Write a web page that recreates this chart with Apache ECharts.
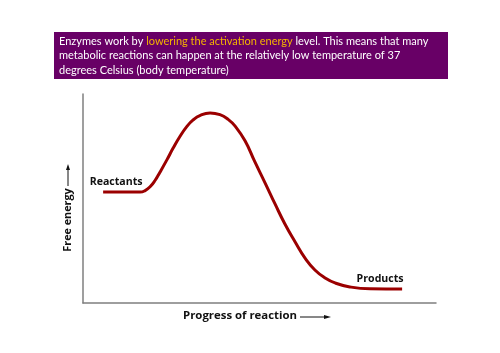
<!DOCTYPE html>
<html>
<head>
<meta charset="utf-8">
<script src="https://cdn.jsdelivr.net/npm/echarts@6/dist/echarts.min.js"></script>
<style>
html,body{margin:0;padding:0;background:#fff;}
#chartmain{width:500px;height:353px;}
</style>
</head>
<body>
<div id="chartmain"></div>
<script>
// progress of reaction (x, 0-100) and free energy (y, 0-100)
var progress = [5.7, 10.5, 16.2, 17.6, 19.0, 20.4, 21.8, 23.8, 25.5, 27.5, 29.5, 31.2, 33.1, 36.0, 38.8, 41.1, 43.1, 45.9, 48.7, 51.6, 54.4, 57.2, 60.1, 62.9, 65.7, 68.6, 71.4, 75.6, 81.3, 90.4];
var energy   = [53.1, 53.1, 53.1, 53.8, 55.6, 58.6, 62.6, 68.6, 74.0, 79.8, 84.6, 87.6, 89.7, 90.9, 90.1, 87.9, 84.6, 77.6, 67.5, 57.4, 47.4, 37.8, 29.2, 21.5, 15.8, 12.0, 9.6, 7.7, 6.8, 6.7];
var pointNames = ['Reactants', 'Products'];

var titleLines = [
    'Enzymes work by {o|lowering the activation energy} level. This means that many',
    'metabolic reactions can happen at the relatively low temperature of 37',
    'degrees Celsius (body temperature)'
];

var data = [];
for (var i = 0; i < progress.length; i++) {
    data.push([progress[i], energy[i]]);
}
data[0] = {
    value: data[0],
    label: {show: true, formatter: pointNames[0], position: 'top', offset: [13, 1]}
};
var last = data.length - 1;
data[last] = {
    value: data[last],
    label: {show: true, formatter: pointNames[1], position: 'top', offset: [-22, 1]}
};

var myChart = echarts.init(document.getElementById('chartmain'));
var options = {
    backgroundColor: '#fff',
    animation: false,
    grid: {left: 83, right: 64, top: 94, bottom: 50},
    xAxis: {
        type: 'value', min: 0, max: 100,
        axisLine: {show: true, lineStyle: {color: '#7f7f7f', width: 1.5}},
        axisTick: {show: false}, axisLabel: {show: false}, splitLine: {show: false}
    },
    yAxis: {
        type: 'value', min: 0, max: 100,
        axisLine: {show: true, lineStyle: {color: '#7f7f7f', width: 1.5}},
        axisTick: {show: false}, axisLabel: {show: false}, splitLine: {show: false}
    },
    series: [{
        type: 'line',
        smooth: 0.5,
        showSymbol: true,
        symbol: 'circle',
        symbolSize: 1,
        itemStyle: {color: 'rgba(0,0,0,0)'},
        lineStyle: {color: '#9b0000', width: 3},
        label: {
            fontFamily: 'Open Sans', fontWeight: 'bold', fontSize: 10.6, color: '#111'
        },
        data: data
    }],
    graphic: [
        {type: 'rect', shape: {x: 54, y: 32, width: 394, height: 47}, style: {fill: '#680066'}},
        {
            type: 'text', left: 59, top: 34,
            style: {
                text: titleLines.join('\n'),
                fill: '#fff', font: '11px Lato', lineHeight: 14.6,
                rich: {o: {fill: '#f5b400', font: '11px Lato', lineHeight: 14.6}}
            }
        },
        // y axis name with arrow
        {
            type: 'text', x: 68, y: 220, rotation: Math.PI / 2,
            style: {text: 'Free energy', font: 'bold 10.8px "Open Sans"', fill: '#111',
                    textAlign: 'center', textVerticalAlign: 'middle'}
        },
        {type: 'line', shape: {x1: 68, y1: 186, x2: 68, y2: 169}, style: {stroke: '#111', lineWidth: 1}},
        {type: 'polygon', shape: {points: [[68, 164], [66, 170], [70, 170]]}, style: {fill: '#111'}},
        // x axis name with arrow
        {
            type: 'text', x: 183, y: 316,
            style: {text: 'Progress of reaction', font: 'bold 11.4px "Open Sans"', fill: '#111',
                    textAlign: 'left', textVerticalAlign: 'middle'}
        },
        {type: 'line', shape: {x1: 300, y1: 317, x2: 325, y2: 317}, style: {stroke: '#111', lineWidth: 1}},
        {type: 'polygon', shape: {points: [[331, 317], [324, 315], [324, 319]]}, style: {fill: '#111'}}
    ]
};
myChart.setOption(options);
</script>
</body>
</html>
